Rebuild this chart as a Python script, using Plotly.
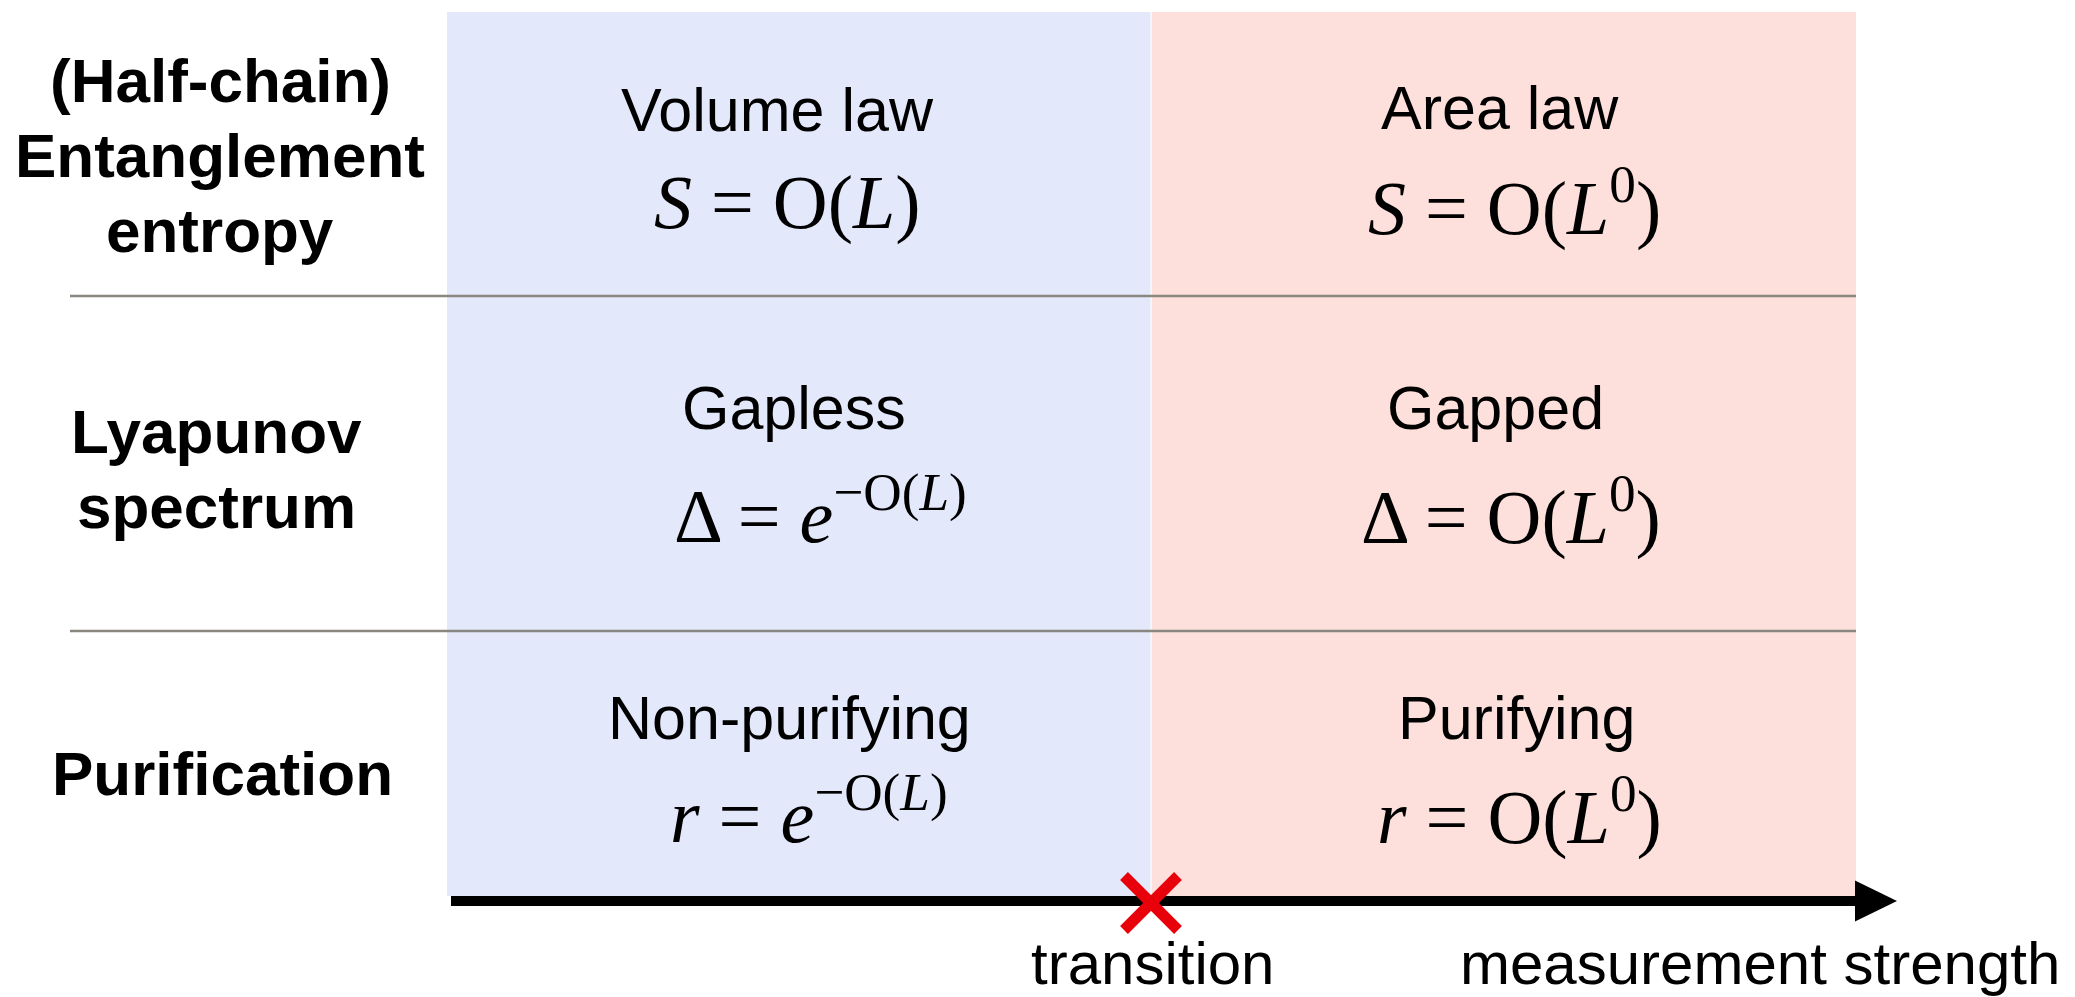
import plotly.graph_objects as go

# ---------------- content ----------------
row_labels = [
    ["(Half-chain)", "Entanglement", "entropy"],
    ["Lyapunov", "spectrum"],
    ["Purification"],
]
left_titles = ["Volume law", "Gapless", "Non-purifying"]
right_titles = ["Area law", "Gapped", "Purifying"]
left_formulas = [
    "<i>S</i> = O(<i>L</i>)",
    "Δ = <i>e</i><sup>−O(<i>L</i>)</sup>",
    "<i>r</i> = <i>e</i><sup>−O(<i>L</i>)</sup>",
]
right_formulas = [
    "<i>S</i> = O(<i>L</i><sup>0</sup>)",
    "Δ = O(<i>L</i><sup>0</sup>)",
    "<i>r</i> = O(<i>L</i><sup>0</sup>)",
]
axis_labels = ["transition", "measurement strength"]

# ---------------- geometry (canvas pixels) ----------------
W, H = 2075, 997
col_edges = [447, 1151, 1856]
region_top, region_bottom = 12, 896
sep_rows = [296, 631]
sep_x0 = 70
axis_y, axis_x0 = 901, 451
arrow_tip = 1897

label_x = [220, 216, 222]
label_line_y = [[80, 155, 230], [431, 506], [773]]
title_y = [[110, 108], [408, 408], [718, 718]]
formula_y = [[202, 203], [510, 512], [810, 812]]
title_x = [[777, 1500], [794, 1495], [789, 1516]]
formula_x = [[787, 1514], [820, 1511], [809, 1519]]

BLUE = "#E3E8FB"
PINK = "#FDE0DB"
RED = "#E8000A"
SANS = "Liberation Sans, Arial, Helvetica, sans-serif"
SERIF = "Liberation Serif, Times New Roman, serif"

fig = go.Figure()
shapes = []
# phase regions
shapes.append(dict(type="rect", x0=col_edges[0], x1=col_edges[1], y0=region_top, y1=region_bottom,
                   fillcolor=BLUE, line=dict(width=0), layer="below"))
shapes.append(dict(type="rect", x0=col_edges[1], x1=col_edges[2], y0=region_top, y1=region_bottom,
                   fillcolor=PINK, line=dict(width=0), layer="below"))
shapes.append(dict(type="line", x0=col_edges[1], x1=col_edges[1], y0=region_top, y1=region_bottom,
                   line=dict(color="rgba(255,255,255,0.8)", width=1.5)))
# row separators
for ys in sep_rows:
    shapes.append(dict(type="line", x0=sep_x0, x1=col_edges[2], y0=ys, y1=ys,
                       line=dict(color="#8A8680", width=2.5)))
# axis arrow
shapes.append(dict(type="line", x0=axis_x0, x1=col_edges[2] + 2, y0=axis_y, y1=axis_y,
                   line=dict(color="black", width=10)))
shapes.append(dict(type="path",
                   path=f"M {col_edges[2]-1},{axis_y-20.5} L {arrow_tip},{axis_y} L {col_edges[2]-1},{axis_y+20.5} Z",
                   fillcolor="black", line=dict(width=0)))
# transition cross
cx, cy, hs = col_edges[1], axis_y + 2, 27
shapes.append(dict(type="line", x0=cx - hs, x1=cx + hs, y0=cy - hs, y1=cy + hs, line=dict(color=RED, width=11)))
shapes.append(dict(type="line", x0=cx - hs, x1=cx + hs, y0=cy + hs, y1=cy - hs, line=dict(color=RED, width=11)))

annotations = []
for i, lines in enumerate(row_labels):
    for j, t in enumerate(lines):
        annotations.append(dict(x=label_x[i], y=label_line_y[i][j], text=f"<b>{t}</b>",
                                font=dict(family=SANS, size=62, color="black")))
for i in range(3):
    for k, titles in enumerate([left_titles, right_titles]):
        annotations.append(dict(x=title_x[i][k], y=title_y[i][k], text=titles[i],
                                font=dict(family=SANS, size=61, color="black")))
    for k, forms in enumerate([left_formulas, right_formulas]):
        annotations.append(dict(x=formula_x[i][k], y=formula_y[i][k], text=forms[i],
                                font=dict(family=SERIF, size=76, color="black")))
annotations.append(dict(x=col_edges[1] + 1, y=963, text=axis_labels[0],
                        font=dict(family=SANS, size=60, color="black")))
annotations.append(dict(x=1760, y=963, text=axis_labels[1],
                        font=dict(family=SANS, size=60, color="black")))
for a in annotations:
    a.update(xref="x", yref="y", showarrow=False, xanchor="center", yanchor="middle")

fig.update_layout(
    width=W, height=H, margin=dict(l=0, r=0, t=0, b=0),
    paper_bgcolor="white", plot_bgcolor="white",
    xaxis=dict(range=[0, W], visible=False, fixedrange=True),
    yaxis=dict(range=[H, 0], visible=False, fixedrange=True),
    shapes=shapes, annotations=annotations, showlegend=False,
)

fig.write_html("out.html", config={"displayModeBar": False},
               post_script="document.body.style.margin='0';document.body.style.overflow='hidden';")
